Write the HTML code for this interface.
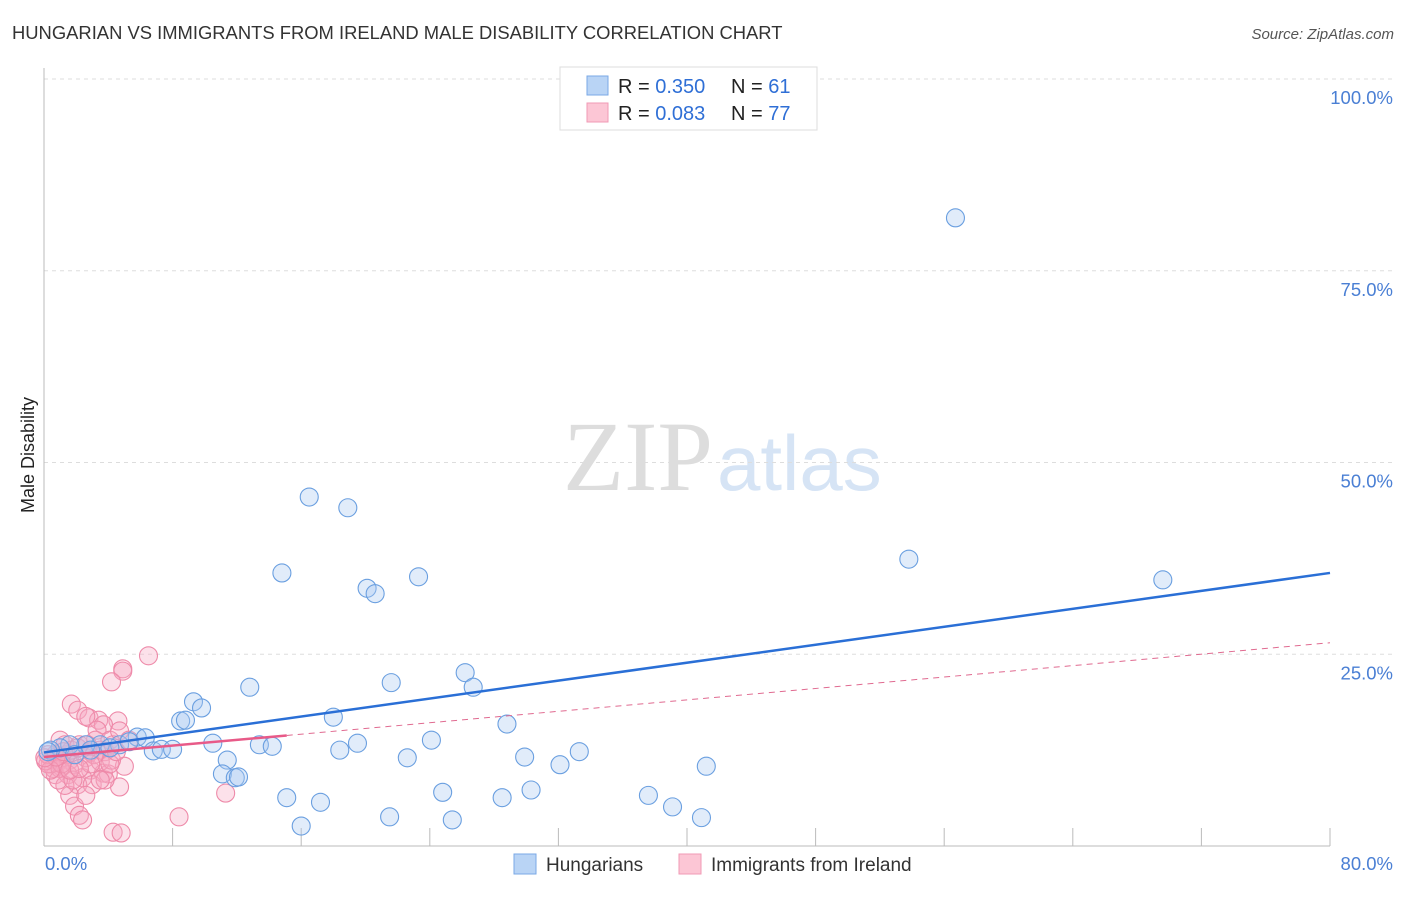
<!DOCTYPE html>
<html><head><meta charset="utf-8"><style>
body{margin:0;background:#fff;font-family:"Liberation Sans",sans-serif;}
svg text{font-family:"Liberation Sans",sans-serif;}
</style></head><body>
<svg width="1406" height="892" xmlns="http://www.w3.org/2000/svg">
<text x="12" y="39" font-size="18.4" fill="#333">HUNGARIAN VS IMMIGRANTS FROM IRELAND MALE DISABILITY CORRELATION CHART</text>
<text x="1394" y="39" font-size="15" fill="#555" font-style="italic" text-anchor="end">Source: ZipAtlas.com</text>
<text x="713" y="490" font-size="100" fill="#ddd" text-anchor="end" style="font-family:'Liberation Serif',serif">ZIP</text>
<text x="717" y="490" font-size="78" fill="#d6e4f5">atlas</text>
<g id="grid"></g>
<g id="axes"></g>
<g id="marks"></g>
<text transform="translate(34,455) rotate(-90)" font-size="18" fill="#222" text-anchor="middle">Male Disability</text>
<g>
<rect x="560" y="67" width="257" height="63" fill="#fff" stroke="#ddd"/>
<rect x="587" y="76" width="21" height="19" fill="#b9d4f5" stroke="#7aa8e6"/>
<rect x="587" y="103" width="21" height="19" fill="#fcc6d5" stroke="#f09ab5"/>
<text x="618" y="93" font-size="20" fill="#222">R = <tspan fill="#2f6fd6">0.350</tspan></text>
<text x="731" y="93" font-size="20" fill="#222">N = <tspan fill="#2f6fd6"> 61</tspan></text>
<text x="618" y="120" font-size="20" fill="#222">R = <tspan fill="#2f6fd6">0.083</tspan></text>
<text x="731" y="120" font-size="20" fill="#222">N = <tspan fill="#2f6fd6">77</tspan></text>
</g>
<g>
<rect x="514" y="854" width="22" height="20" fill="#b9d4f5" stroke="#7aa8e6"/>
<text x="546" y="871" font-size="19" fill="#333">Hungarians</text>
<rect x="679" y="854" width="22" height="20" fill="#fcc6d5" stroke="#f09ab5"/>
<text x="711" y="871" font-size="19" fill="#333">Immigrants from Ireland</text>
</g>
</svg>
<script>
const yTicks=[25,50,75,100];
const yTickLabels=["25.0%","50.0%","75.0%","100.0%"];
const xEndLabels=["0.0%","80.0%"];
const blueX=[56.7,16.5,18.9,53.8,69.6,14.8,23.3,20.1,20.6,26.2,26.7,21.6,12.8,9.3,9.8,8.5,8.8,18.0,28.8,5.8,6.3,10.5,13.4,14.2,19.5,24.1,33.3,29.9,32.1,22.6,41.2,6.8,7.3,8.0,11.4,11.1,11.9,12.1,18.4,15.1,17.2,24.8,30.3,28.5,37.6,39.1,16.0,21.5,25.4,40.9,3.5,4.7,2.6,1.6,1.0,0.4,0.25,2.9,5.3,4.1,1.9];
const blueY=[81.9,45.5,44.1,37.4,34.7,35.6,35.1,33.6,32.9,22.6,20.7,21.3,20.7,18.8,18.0,16.3,16.4,16.8,15.9,14.2,14.1,13.4,13.2,13.0,13.4,13.8,12.3,11.6,10.6,11.5,10.4,12.4,12.6,12.6,11.2,9.4,8.9,9.0,12.5,6.3,5.7,7.0,7.3,6.3,6.6,5.1,2.6,3.8,3.4,3.7,13.2,13.2,13.2,13.2,12.8,12.5,12.3,12.5,13.6,12.8,11.9];
const pinkX=[6.5,4.9,4.9,4.2,1.7,2.1,2.8,3.4,4.6,2.6,3.7,3.3,1.0,1.3,2.2,3.2,4.1,0.7,0.9,1.1,1.6,1.9,2.6,2.9,3.5,3.8,4.3,5.0,2.9,3.7,4.0,2.4,0.7,1.5,2.1,3.0,4.7,3.8,1.6,1.9,2.2,2.4,11.3,8.4,4.3,4.8,0.4,0.5,0.6,0.25,0.1,1.0,1.4,1.7,2.1,2.7,3.1,3.5,4.2,1.3,2.6,0.9,1.1,1.8,4.7,5.3,4.1,0.25,0.4,0.75,1.2,1.6,2.9,3.5,0.05,2.2,4.5];
const pinkY=[24.8,23.1,22.8,21.4,18.5,17.7,16.7,16.4,16.3,16.9,15.8,15.1,13.8,13.2,13.2,13.8,13.8,11.9,11.0,10.3,11.2,10.6,11.5,12.3,12.5,12.3,13.2,10.4,9.9,9.5,9.4,8.9,9.3,9.3,8.0,8.0,7.7,8.6,6.6,5.2,4.0,3.4,6.9,3.8,1.8,1.7,10.7,11.3,10.1,10.7,11.1,10.1,11.9,12.5,12.8,13.2,11.9,11.0,11.2,7.9,6.6,8.6,10.7,8.6,15.0,13.8,10.7,11.9,9.9,11.6,12.3,9.9,10.7,8.6,11.5,10.1,12.3];
const blueTrend=[12.2,35.6];
const pinkTrend=[11.6,26.5];
const pinkSolidEnd=15.1;
const X0=44,X1=1330,Y0=846,Y100=79;
const sx=v=>X0+v/80*(X1-X0);
const sy=v=>Y0-v/100*(Y0-Y100);
const NS="http://www.w3.org/2000/svg";
function mk(tag,attrs,parent){const e=document.createElementNS(NS,tag);for(const k in attrs)e.setAttribute(k,attrs[k]);document.getElementById(parent).appendChild(e);return e;}
yTicks.forEach((t,i)=>{
 const g=mk('line',{x1:X0,x2:1394,y1:sy(t),y2:sy(t),stroke:'#ddd','stroke-dasharray':'4,4'},'grid');
 
 
 const tx=mk('text',{x:1393,y:sy(t)+25,'font-size':18.5,fill:'#4a7fd4','text-anchor':'end'},'axes');
 tx.textContent=yTickLabels[i];
 
 
});
let a=mk('line',{x1:X0,x2:X0,y1:68,y2:Y0,stroke:'#bbb'},'axes');


a=mk('line',{x1:X0,x2:X1,y1:Y0,y2:Y0,stroke:'#bbb'},'axes');


for(let i=1;i<=10;i++){const t=mk('line',{x1:sx(i*8),x2:sx(i*8),y1:Y0,y2:Y0-18,stroke:'#bbb'},'axes');
 
 }
[[0,X0+1,'start'],[1,1393,'end']].forEach(([i,x,an])=>{const t=mk('text',{x:x,y:870,'font-size':18.5,fill:'#4a7fd4','text-anchor':an},'axes');t.textContent=xEndLabels[i];
 
 });
pinkX.forEach((x,i)=>{const c=mk('circle',{cx:sx(x),cy:sy(pinkY[i]),r:9,fill:'rgba(246,170,195,0.35)',stroke:'#ee8aa9','stroke-width':1.1},'marks');
 
 });
blueX.forEach((x,i)=>{const c=mk('circle',{cx:sx(x),cy:sy(blueY[i]),r:9,fill:'rgba(170,200,240,0.35)',stroke:'#6a9fe0','stroke-width':1.1},'marks');
 
 });
let l=mk('line',{x1:sx(0),y1:sy(blueTrend[0]),x2:sx(80),y2:sy(blueTrend[1]),stroke:'#2a6fd6','stroke-width':2.5},'marks');


const py=v=>pinkTrend[0]+(pinkTrend[1]-pinkTrend[0])*v/80;
l=mk('line',{x1:sx(pinkSolidEnd),y1:sy(py(pinkSolidEnd)),x2:sx(80),y2:sy(pinkTrend[1]),stroke:'#e06a90','stroke-width':1,'stroke-dasharray':'6,5'},'marks');


l=mk('line',{x1:sx(0),y1:sy(pinkTrend[0]),x2:sx(pinkSolidEnd),y2:sy(py(pinkSolidEnd)),stroke:'#e85a88','stroke-width':2.5},'marks');


</script>
</body></html>
